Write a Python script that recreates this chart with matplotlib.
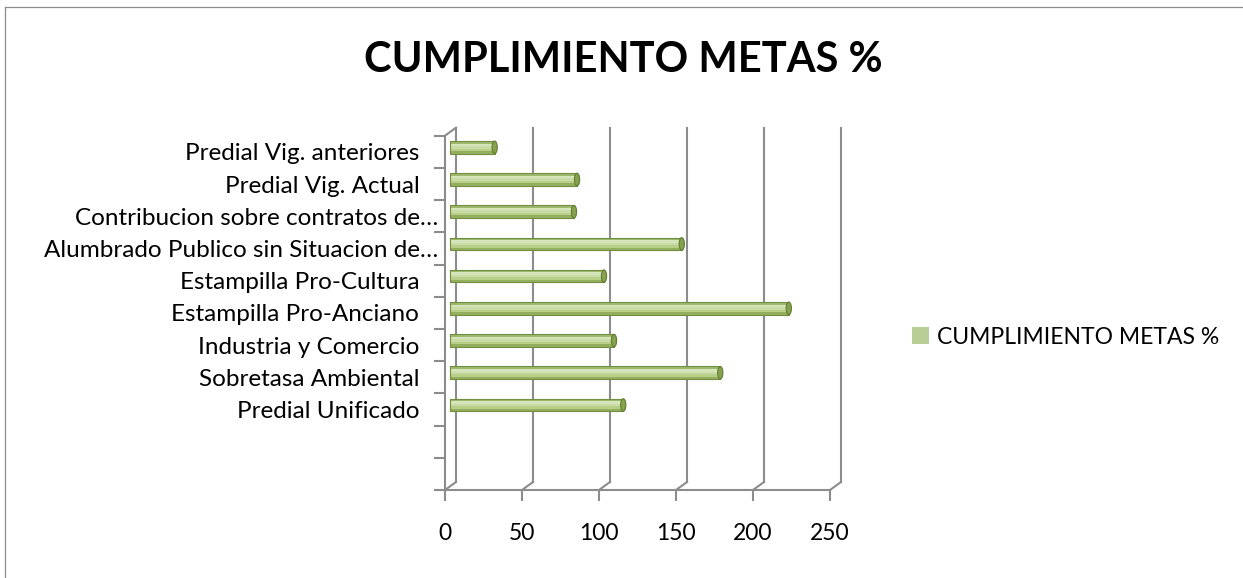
import matplotlib
matplotlib.use("Agg")
import numpy as np
import matplotlib.pyplot as plt
from matplotlib import transforms
from matplotlib.patches import Ellipse, Patch
from matplotlib.lines import Line2D

plt.rcParams['font.family'] = ['Lato', 'DejaVu Sans']

# Data -----------------------------------------------------------------------
categories = ["Predial Vig. anteriores   ", "Predial Vig. Actual   ",
              "Contribucion sobre contratos de…", "Alumbrado Publico sin Situacion de…",
              "Estampilla Pro-Cultura   ", "Estampilla Pro-Anciano   ",
              "Industria y Comercio   ", "Sobretasa Ambiental   ",
              "Predial Unificado   ", "", ""]
values = [29, 82.5, 80.5, 150.5, 100, 220, 106.5, 175.5, 112.5]
xticks = [0, 50, 100, 150, 200, 250]
series_name = "CUMPLIMIENTO METAS %"

grid_col = '#8c8c8c'

## Plotting -------------------------------------------------------------------
fig = plt.figure(figsize=(12.43, 5.78), dpi=100)
ax = fig.add_axes([445/1243, 88/578, 385/1243, 354.3/578])
n = len(categories)
ax.set_xlim(0, 250)
ax.set_ylim(n - 0.5, -0.5)

# fake 3d depth: back wall and middle plane are shifted copies of the data transform
back = transforms.offset_copy(ax.transData, fig=fig, x=11, y=8, units='dots')
mid = transforms.offset_copy(ax.transData, fig=fig, x=5, y=4.5, units='dots')
to_data = ax.transData.inverted()

for v in xticks:
    ax.plot([v, v], [n - 0.5, -0.5], color=grid_col, lw=1.5, transform=back, clip_on=False)
    bx, by = to_data.transform(back.transform((v, n - 0.5)))
    ax.plot([v, bx], [n - 0.5, by], color=grid_col, lw=1.5, clip_on=False)
bx, by = to_data.transform(back.transform((0, -0.5)))
ax.plot([0, bx], [-0.5, by], color=grid_col, lw=1.5, clip_on=False)

# cylinders
h = 0.39
band_cols = ['#9fb96c', '#d6e4bb', '#cadca6', '#b7cf88', '#93ae5d']
ypos = np.arange(len(values))
for i, c in enumerate(band_cols):
    ax.barh(ypos - h/2 + (i + 0.5)*h/5, values, height=h/5, color=c,
            transform=mid, clip_on=False, zorder=3)
ax.barh(ypos, values, height=h, fill=False, edgecolor='#748e40', lw=0.8,
        transform=mid, clip_on=False, zorder=4)
for yv, v in zip(ypos, values):
    ax.add_patch(Ellipse((v, yv), width=3.4, height=h, facecolor='#86a24f',
                         edgecolor='#627c32', lw=0.8, transform=mid, zorder=5, clip_on=False))

# axes
for s in ['top', 'right']:
    ax.spines[s].set_visible(False)
for s in ['left', 'bottom']:
    ax.spines[s].set_color(grid_col)
    ax.spines[s].set_linewidth(1.5)

ax.set_xticks(xticks)
ax.tick_params(axis='x', length=8, width=1.5, color=grid_col, pad=16, labelsize=16.5)
ax.set_yticks(np.arange(-0.5, n, 1))
ax.set_yticks(np.arange(n), categories, minor=True)
ax.tick_params(axis='y', which='major', length=8, width=1.5, color=grid_col, labelleft=False)
ax.tick_params(axis='y', which='minor', length=0, pad=5, labelsize=17.5)

fig.text((365 + 882)/2/1243, 1 - 72/578, "CUMPLIMIENTO METAS %", ha='center',
         va='baseline', fontsize=30, fontweight='bold')

fig.legend(handles=[Patch(facecolor='#b9cd96', label=series_name)], loc='center left',
           bbox_to_anchor=(912/1243, 1 - 337/578), frameon=False, fontsize=16.5,
           handlelength=0.72, handleheight=0.72, handletextpad=0.35,
           borderpad=0, borderaxespad=0)

# chart border
fig.add_artist(Line2D([5/1243, 5/1243], [0, 1 - 7/578], transform=fig.transFigure, color=grid_col, lw=0.9))
fig.add_artist(Line2D([5/1243, 1], [1 - 7/578, 1 - 7/578], transform=fig.transFigure, color=grid_col, lw=0.9))

fig.savefig("out.png", dpi=100)
